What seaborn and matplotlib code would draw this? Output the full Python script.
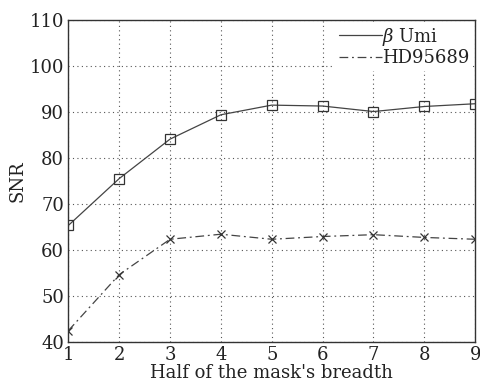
import matplotlib
matplotlib.use("Agg")
import matplotlib.pyplot as plt
from matplotlib.lines import Line2D
import seaborn as sns
import pandas as pd

half_breadth = [1, 2, 3, 4, 5, 6, 7, 8, 9]
snr_beta_umi = [65.3, 75.5, 84.1, 89.4, 91.5, 91.3, 90.1, 91.2, 91.8]
snr_hd95689 = [42.4, 54.6, 62.3, 63.4, 62.3, 62.9, 63.3, 62.7, 62.3]
labels = [r"$\beta$ Umi", "HD95689"]

sns.set_style("ticks")
plt.rcParams["font.family"] = ["DejaVu Serif"]
plt.rcParams["mathtext.fontset"] = "dejavuserif"

fig, ax = plt.subplots(figsize=(4.81, 3.87), dpi=100)

df1 = pd.DataFrame({"x": half_breadth, "y": snr_beta_umi})
df2 = pd.DataFrame({"x": half_breadth, "y": snr_hd95689})
dash = (0, (7, 3, 1.5, 3))

sns.lineplot(data=df1, x="x", y="y", ax=ax, color="#444444", lw=0.9,
             marker="s", markersize=7, markerfacecolor="none",
             markeredgecolor="#333333", markeredgewidth=0.9, legend=False)
sns.lineplot(data=df2, x="x", y="y", ax=ax, color="#444444", lw=0.9,
             linestyle=dash,
             marker="x", markersize=6, markeredgecolor="#333333",
             markeredgewidth=0.9, legend=False)

ax.set_xlim(1, 9)
ax.set_ylim(40, 110)
ax.set_xticks(half_breadth)
ax.set_yticks(range(40, 111, 10))
ax.grid(True, linestyle=(0, (1, 3)), color="#555555", lw=0.8)
ax.tick_params(direction="in", length=0, labelsize=13, pad=3, colors="#222222")
for s in ax.spines.values():
    s.set_color("#333333")
    s.set_linewidth(1.0)

ax.set_xlabel("Half of the mask's breadth", fontsize=13, labelpad=0, color="#222222")
ax.set_ylabel("SNR", fontsize=13, labelpad=2, color="#222222")

handles = [Line2D([], [], color="#444444", lw=0.9),
           Line2D([], [], color="#444444", lw=0.9, linestyle=dash)]
leg = ax.legend(handles, labels, loc="upper right", fontsize=13, frameon=True,
                fancybox=False, handlelength=2.4, handletextpad=0.0,
                borderpad=0.2, labelspacing=0.1, borderaxespad=0.1)
leg.get_frame().set_edgecolor("none")
leg.get_frame().set_facecolor("white")
leg.get_frame().set_alpha(1)
for t in leg.get_texts():
    t.set_color("#222222")

plt.subplots_adjust(left=0.142, right=0.988, top=0.948, bottom=0.117)
fig.savefig("out.png", dpi=100)
